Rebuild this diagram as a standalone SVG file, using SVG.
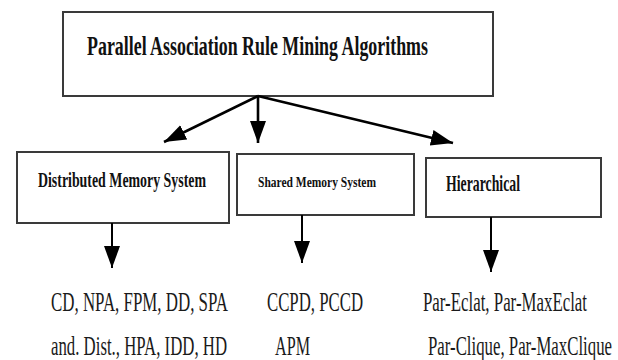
<svg xmlns="http://www.w3.org/2000/svg" width="618" height="360" viewBox="0 0 618 360">
  <style>
    .box { fill: #ffffff; stroke: #3a3a3a; stroke-width: 2; }
    .head { font-family: "Liberation Serif", Tinos, "Times New Roman", "DejaVu Serif", serif; font-weight: bold; fill: #111; }
    .item { font-family: "Liberation Serif", Tinos, "Times New Roman", "DejaVu Serif", serif; fill: #1a1a1a; font-size: 17px; }
    .link { stroke: #000; stroke-width: 2.6; fill: none; marker-end: url(#arrow); }
    .drop { stroke: #000; stroke-width: 2; fill: none; marker-end: url(#arrow); }
  </style>
  <defs>
    <marker id="arrow" markerUnits="userSpaceOnUse" markerWidth="24" markerHeight="18" refX="22" refY="8" orient="auto">
      <path d="M0,0 L22,8 L0,16 Z" fill="#000"/>
    </marker>
  </defs>

  <rect width="618" height="360" fill="#ffffff"/>

  <!-- labels are set in a serif face stretched vertically -->
  <g id="root">
    <rect class="box" x="63" y="12" width="430" height="84"/>
    <text class="head" transform="translate(87,55) scale(1,1.42)" font-size="19" textLength="341" lengthAdjust="spacingAndGlyphs">Parallel Association Rule Mining Algorithms</text>
  </g>

  <g id="distributed">
    <rect class="box" x="17" y="152" width="212" height="71"/>
    <text class="head" transform="translate(38,187) scale(1,1.45)" font-size="15" textLength="168" lengthAdjust="spacingAndGlyphs">Distributed Memory System</text>
  </g>

  <g id="shared">
    <rect class="box" x="237" y="154" width="177" height="61"/>
    <text class="head" transform="translate(258,187) scale(1,1.4)" font-size="11" textLength="118" lengthAdjust="spacingAndGlyphs">Shared Memory System</text>
  </g>

  <g id="hierarchical">
    <rect class="box" x="426" y="158" width="175" height="59"/>
    <text class="head" transform="translate(446,191) scale(1,1.45)" font-size="15.5" textLength="74" lengthAdjust="spacingAndGlyphs">Hierarchical</text>
  </g>

  <g id="distributed-algorithms">
    <text class="item" transform="translate(51,311) scale(1,1.55)" textLength="177" lengthAdjust="spacingAndGlyphs">CD, NPA, FPM, DD, SPA</text>
    <text class="item" transform="translate(51,355) scale(1,1.55)" textLength="176" lengthAdjust="spacingAndGlyphs">and. Dist., HPA, IDD, HD</text>
  </g>

  <g id="shared-algorithms">
    <text class="item" transform="translate(267,311) scale(1,1.55)" textLength="96" lengthAdjust="spacingAndGlyphs">CCPD, PCCD</text>
    <text class="item" transform="translate(275,355) scale(1,1.55)" textLength="35" lengthAdjust="spacingAndGlyphs">APM</text>
  </g>

  <g id="hierarchical-algorithms">
    <text class="item" transform="translate(423,311) scale(1,1.55)" textLength="164" lengthAdjust="spacingAndGlyphs">Par-Eclat, Par-MaxEclat</text>
    <text class="item" transform="translate(428,355) scale(1,1.55)" textLength="184" lengthAdjust="spacingAndGlyphs">Par-Clique, Par-MaxClique</text>
  </g>

  <g id="connectors">
    <line class="link" x1="258" y1="96" x2="164" y2="142"/>
    <line class="link" x1="258" y1="96" x2="258" y2="143"/>
    <line class="link" x1="258" y1="96" x2="453" y2="143"/>
    <line class="drop" x1="112" y1="223" x2="112" y2="268"/>
    <line class="drop" x1="302" y1="215" x2="302" y2="263"/>
    <line class="drop" x1="491" y1="217" x2="491" y2="272"/>
  </g>
</svg>
